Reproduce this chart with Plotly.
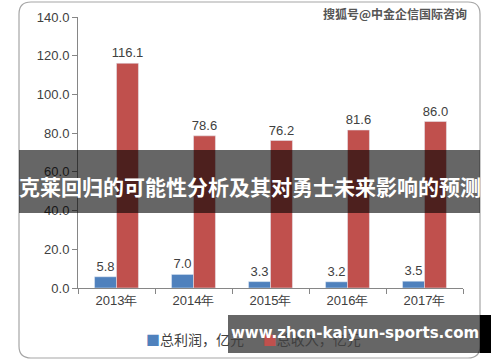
import plotly.graph_objects as go

categories = ["2013年", "2014年", "2015年", "2016年", "2017年"]
profit = [5.8, 7.0, 3.3, 3.2, 3.5]
revenue = [116.1, 78.6, 76.2, 81.6, 86.0]
series_names = ["总利润，亿元", "总收入，亿元"]
tick_vals = [0, 20, 40, 60, 80, 100, 120, 140]
tick_text = [f"{v:.1f}" for v in tick_vals]

W, H = 500, 362
L, R, T, B = 78, 463, 17, 288


def px(x):
    return (x - L) / (R - L)


def py(y):
    return (B - y) / (B - T)


font_main = "Liberation Sans, Arial, sans-serif"
txt_col = "#404040"
colors = ["#4F81BD", "#C0504D"]

fig = go.Figure()
for name, vals, col in zip(series_names, [profit, revenue], colors):
    fig.add_trace(go.Bar(
        x=categories, y=vals, name=name,
        marker=dict(color=col),
        text=[f"{v:.1f}" for v in vals], textposition="outside",
        textfont=dict(size=13, color=txt_col, family=font_main),
        constraintext="none", cliponaxis=False, showlegend=False,
    ))

# rounded border
x0, x1, y0, y1, r = 19, 480, 2, 358, 12
path = (
    f"M {px(x0 + r)},{py(y0)} L {px(x1 - r)},{py(y0)} "
    f"Q {px(x1)},{py(y0)} {px(x1)},{py(y0 + r)} "
    f"L {px(x1)},{py(y1 - r)} Q {px(x1)},{py(y1)} {px(x1 - r)},{py(y1)} "
    f"L {px(x0 + r)},{py(y1)} Q {px(x0)},{py(y1)} {px(x0)},{py(y1 - r)} "
    f"L {px(x0)},{py(y0 + r)} Q {px(x0)},{py(y0)} {px(x0 + r)},{py(y0)} Z"
)
shapes = [
    dict(type="path", xref="paper", yref="paper", path=path,
         line=dict(color="#A6A6A6", width=1.2), layer="below"),
    # title band overlay
    dict(type="rect", xref="paper", yref="paper",
         x0=px(19), x1=px(480), y0=py(213), y1=py(150),
         fillcolor="rgba(0,0,0,0.6)", line=dict(width=0), layer="above"),
    # bottom watermark overlay
    dict(type="rect", xref="paper", yref="paper",
         x0=px(228), x1=px(480), y0=py(353), y1=py(315),
         fillcolor="rgba(0,0,0,0.6)", line=dict(width=0), layer="above"),
    dict(type="rect", xref="paper", yref="paper",
         x0=px(480), x1=px(491), y0=py(353), y1=py(315),
         fillcolor="#000000", line=dict(width=0), layer="above"),
]

legend_text = (
    f"<span style='color:{colors[0]}'>■</span>{series_names[0]}"
    f"      <span style='color:{colors[1]}'>■</span>{series_names[1]}"
)

annotations = [
    dict(text=legend_text, xref="paper", yref="paper",
         x=px(144), y=py(339), xanchor="left", yanchor="middle",
         showarrow=False,
         font=dict(size=14, color=txt_col, family="Noto Sans CJK SC")),
    dict(text="<b>克莱回归的可能性分析及其对勇士未来影响的预测</b>",
         xref="paper", yref="paper", x=px(250), y=py(186),
         xanchor="center", yanchor="middle", showarrow=False,
         font=dict(size=21, color="white", family="Noto Sans CJK SC")),
    dict(text="<b>www.zhcn-kaiyun-sports.com</b>",
         xref="paper", yref="paper", x=px(355), y=py(333),
         xanchor="center", yanchor="middle", showarrow=False,
         font=dict(size=15, color="white", family="DejaVu Sans")),
    dict(text="<b>搜狐号@中金企信国际咨询</b>",
         xref="paper", yref="paper", x=px(469), y=py(14),
         xanchor="right", yanchor="middle", showarrow=False,
         font=dict(size=12, color="#555555", family="Noto Sans CJK SC")),
]

fig.update_layout(
    width=W, height=H,
    margin=dict(l=L, r=W - R, t=T, b=H - B),
    paper_bgcolor="white", plot_bgcolor="white",
    barmode="group", bargap=0.43, bargroupgap=0,
    showlegend=False,
    shapes=shapes, annotations=annotations,
    font=dict(family=font_main, color=txt_col),
)
fig.update_yaxes(range=[0, 140], tickvals=tick_vals, ticktext=tick_text,
                 automargin=False,
                 showgrid=False, zeroline=False, showline=True,
                 linecolor="#868686", linewidth=1, ticks="outside",
                 ticklen=5, tickcolor="#868686",
                 tickfont=dict(size=13, color=txt_col, family=font_main))
fig.update_xaxes(showgrid=False, showline=True, linecolor="#868686",
                 automargin=False,
                 linewidth=1, ticks="outside", ticklen=5,
                 tickcolor="#868686", tickson="boundaries",
                 tickfont=dict(size=13, color=txt_col, family=font_main))

fig.write_html("out.html",
               config={"displayModeBar": False},
               post_script="document.body.style.margin='0';"
                           "document.body.style.overflow='hidden';")
